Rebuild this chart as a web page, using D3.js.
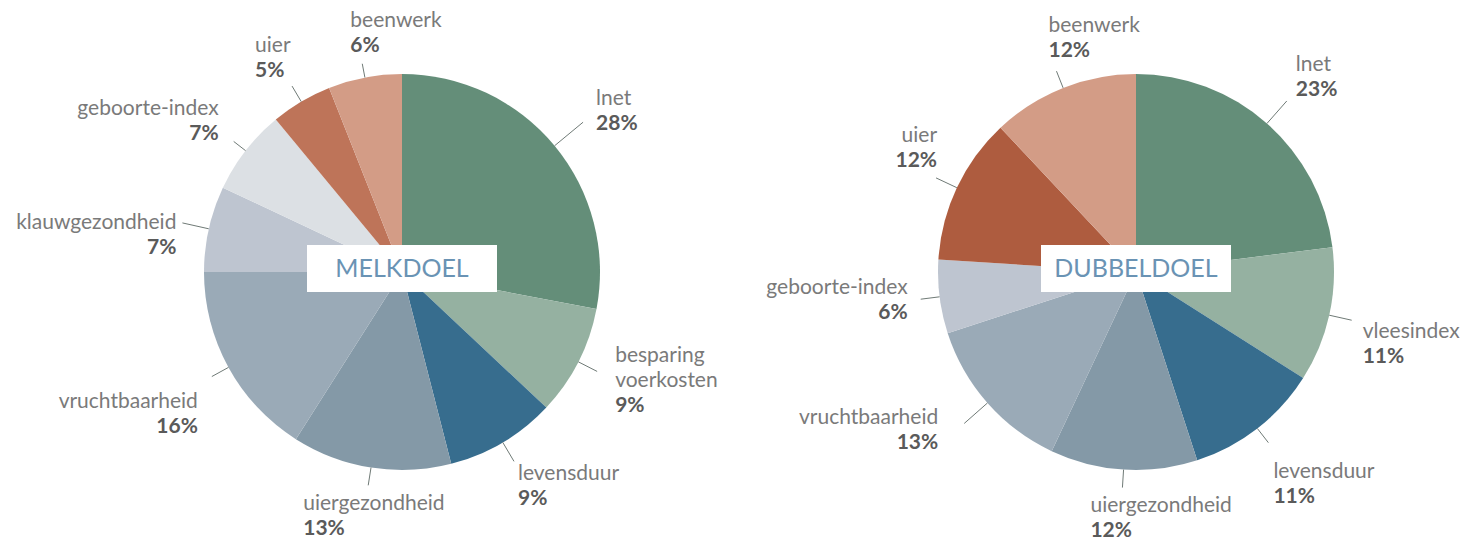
<!DOCTYPE html>
<html>
<head>
<meta charset="utf-8">
<script src="https://cdn.jsdelivr.net/npm/d3@7"></script>
<style>
  body { margin: 0; background: #fff; }
  svg { display: block; }
</style>
</head>
<body>
<div id="chart"></div>
<script>
// data
const melkCategories = ["lnet", "besparing voerkosten", "levensduur", "uiergezondheid",
  "vruchtbaarheid", "klauwgezondheid", "geboorte-index", "uier", "beenwerk"];
const melkShares = [28, 9, 9, 13, 16, 7, 7, 5, 6];

const dubbelCategories = ["lnet", "vleesindex", "levensduur", "uiergezondheid",
  "vruchtbaarheid", "geboorte-index", "uier", "beenwerk"];
const dubbelShares = [23, 11, 11, 12, 13, 6, 12, 12];

// slice colours
const melkColors = ["#648e79", "#95b1a1", "#376d8e", "#8499a7", "#9aaab7",
  "#bec5d0", "#dce0e4", "#be7459", "#d39c86"];
const dubbelColors = ["#648e79", "#95b1a1", "#376d8e", "#8499a7", "#9aaab7",
  "#bec5d0", "#ae5c3f", "#d39c86"];

// label layout: leader length, shift of first baseline from leader end, alignment
const melkLabelLayout = [
  [37, 13, -17, "start"], [21, 18, -9, "start"], [22, 4, 19, "start"],
  [18, -65, 25, "start"], [19, -14, 31, "end"], [27, -6, 6, "end"],
  [15, -15, -26, "end"], [18, -37, -34, "start"], [14, -12, -37, "start"]
];
const dubbelLabelLayout = [
  [30, 9, -30, "start"], [23, 11, 18, "start"], [18, 5, 35, "start"],
  [18, -32, 24, "start"], [31, -26, 1, "end"], [19, -13, -5, "end"],
  [23, 1, -36, "end"], [18, -8, -39, "start"]
];

const width = 1477, height = 542;
const radius = 198, cy = 272, lineH = 25;
const font = "Lato, 'Open Sans', sans-serif";

const svg = d3.select("#chart")
  .append("svg")
    .attr("width", width)
    .attr("height", height);

function drawPie(cx, categories, shares, colors, layout, title) {
  const data = categories.map((c, i) => ({ name: c, value: shares[i] }));
  const pie = d3.pie().sort(null).value(d => d.value);
  const arc = d3.arc().innerRadius(0).outerRadius(radius);
  const arcs = pie(data);

  const g = svg.append("g")
    .attr("transform", `translate(${cx},${cy})`);

  g.selectAll("path.slice")
    .data(arcs)
    .join("path")
      .attr("class", "slice")
      .attr("d", arc)
      .attr("fill", (d, i) => colors[i]);

  arcs.forEach((d, i) => {
    const [len, dx, dy, align] = layout[i];
    const a = (d.startAngle + d.endAngle) / 2;
    const s = Math.sin(a), c = -Math.cos(a);
    const x0 = s * radius, y0 = c * radius;
    const x1 = s * (radius + len), y1 = c * (radius + len);

    g.append("line")
      .attr("x1", x0).attr("y1", y0)
      .attr("x2", x1).attr("y2", y1)
      .attr("stroke", "#6f7a76")
      .attr("stroke-width", 1);

    const lines = d.data.name.split(" ").map(t => ({ t, bold: false }));
    lines.push({ t: d.data.value + "%", bold: true });

    const txt = g.append("text")
      .attr("text-anchor", align)
      .style("font-family", font)
      .style("font-size", "21px");
    lines.forEach((ln, k) => {
      txt.append("tspan")
        .attr("x", x1 + dx)
        .attr("y", y1 + dy + k * lineH)
        .attr("fill", ln.bold ? "#5a5a5a" : "#7a7a7a")
        .style("font-weight", ln.bold ? 700 : 400)
        .text(ln.t);
    });
  });

  // title box in the middle
  g.append("rect")
    .attr("x", -95)
    .attr("y", -27)
    .attr("width", 190)
    .attr("height", 47)
    .attr("fill", "#fff");
  g.append("text")
    .attr("x", 0)
    .attr("y", 5)
    .attr("text-anchor", "middle")
    .style("font-family", font)
    .style("font-size", "25px")
    .attr("fill", "#6a93b4")
    .text(title);
}

drawPie(402, melkCategories, melkShares, melkColors, melkLabelLayout, "MELKDOEL");
drawPie(1136, dubbelCategories, dubbelShares, dubbelColors, dubbelLabelLayout, "DUBBELDOEL");
</script>
</body>
</html>
